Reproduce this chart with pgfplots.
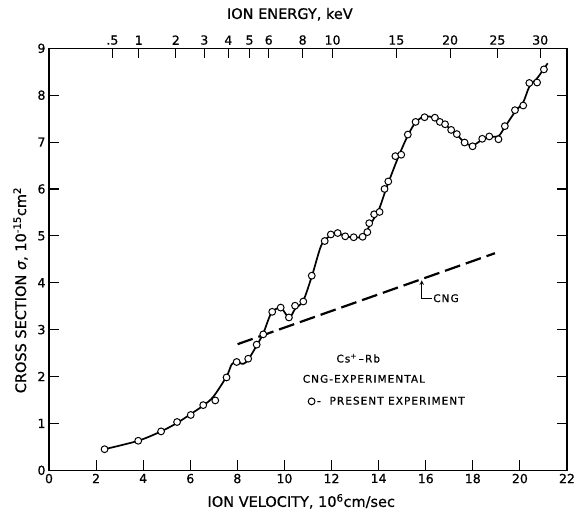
\documentclass[border=0pt]{standalone}
\usepackage{pgfplots}
\pgfplotsset{compat=1.18}
\usepackage{fontspec}
\setmainfont[FakeBold=0.7]{DejaVu Sans}
\newfontfamily\annfont[LetterSpace=10,FakeBold=0.7]{DejaVu Sans}
\begin{document}
\begin{tikzpicture}[x=1pt,y=1pt]
\begin{axis}[
  at={(0,0)}, anchor=south west,
  scale only axis, width=518pt, height=422pt,
  xmin=0, xmax=22, ymin=0, ymax=9,
  xtick={0,2,...,22}, ytick={0,1,...,9},
  xtick pos=bottom, ytick pos=both, tick align=inside,
  major tick length=10pt,
  axis line style={line width=1.3pt},
  every tick/.style={black, line width=1.1pt},
  /pgf/number format/assume math mode=true,
  tick label style={font=\fontsize{12.5}{12.5}\selectfont},
  xlabel={ION VELOCITY, 10\textsuperscript{6}cm/sec},
  xlabel style={at={(axis description cs:0.487,-0.0735)}, anchor=center, font=\fontsize{14.5}{15}\selectfont},
  ylabel={CROSS SECTION \textit{σ}, 10\textsuperscript{-15}cm\textsuperscript{2}},
  ylabel style={at={(axis description cs:-0.055,0.427)}, anchor=center, font=\fontsize{14.5}{15}\selectfont},
  legend style={at={(axis cs:11.0,1.47)}, anchor=west, draw=none, fill=none,
    font=\annfont\fontsize{10.5}{11}\selectfont, inner sep=0pt,
    /tikz/every even column/.append style={column sep=0pt}},
]
% fitted curve
\addplot[black, line width=1.7pt, smooth, tension=0.5, forget plot] coordinates {
(2.36,0.45)(3.79,0.63)(4.76,0.83)(5.44,1.01)(6.02,1.20)(6.55,1.38)(6.98,1.57)
(7.54,2.00)(7.76,2.26)(7.97,2.31)(8.25,2.27)(8.46,2.36)(8.82,2.66)(9.10,2.92)
(9.45,3.36)(9.85,3.46)(10.20,3.25)(10.45,3.44)(10.80,3.62)(11.17,4.15)(11.55,4.78)
(11.85,4.97)(12.25,5.05)(12.60,4.99)(13.00,4.96)(13.35,5.00)(13.62,5.22)(14.00,5.55)
(14.30,5.98)(14.50,6.25)(14.85,6.70)(15.24,7.14)(15.57,7.42)(15.95,7.55)(16.40,7.51)
(16.80,7.38)(17.30,7.17)(17.65,6.99)(18.00,6.93)(18.40,7.05)(18.80,7.11)(19.10,7.13)
(19.36,7.32)(19.80,7.65)(20.14,7.85)(20.40,8.18)(20.73,8.36)(21.00,8.55)(21.18,8.68)
};
% CNG experimental line
\addplot[black, line width=2.2pt, dash pattern=on 16pt off 6pt, forget plot] coordinates {
(8.01,2.69)(18.94,4.63)
};
% present experiment points
\addplot[only marks, mark=*, mark size=3.4pt,
  mark options={fill=white, draw=black, line width=1pt},
  legend image code/.code={\draw[mark repeat=1] plot coordinates {(3.5pt,0pt)};}] coordinates {
(2.36,0.45)(3.79,0.63)(4.76,0.83)(5.44,1.03)(6.02,1.18)(6.55,1.39)(7.06,1.49)
(7.54,1.98)(7.97,2.31)(8.46,2.38)(8.82,2.68)(9.10,2.90)(9.48,3.38)(9.84,3.47)
(10.19,3.26)(10.45,3.51)(10.80,3.60)(11.16,4.15)(11.71,4.89)(11.97,5.03)(12.26,5.06)
(12.58,4.99)(12.94,4.97)(13.32,4.98)(13.52,5.08)(13.60,5.27)(13.81,5.46)(14.04,5.51)
(14.25,6.00)(14.41,6.16)(14.71,6.70)(14.96,6.73)(15.24,7.16)(15.57,7.43)(15.95,7.53)
(16.39,7.52)(16.60,7.43)(16.82,7.38)(17.08,7.26)(17.32,7.17)(17.65,6.99)(17.99,6.91)
(18.40,7.07)(18.70,7.12)(19.09,7.06)(19.36,7.34)(19.79,7.68)(20.14,7.78)(20.40,8.26)
(20.73,8.27)(21.02,8.55)
};
\addlegendentry{- \ PRESENT EXPERIMENT}
% CNG label with arrow
\draw[line width=1pt, -stealth] (axis cs:16.25,3.67) -- (axis cs:15.83,3.67) -- (axis cs:15.83,4.05);
\node[anchor=west, font=\annfont\fontsize{10.5}{11}\selectfont, inner sep=1pt] at (axis cs:16.27,3.67) {CNG};
\node[anchor=west, font=\annfont\fontsize{10.5}{11}\selectfont, inner sep=0pt] at (axis cs:12.2,2.39) {Cs\textsuperscript{+}\,–Rb};
\node[anchor=west, font=\annfont\fontsize{10.5}{11}\selectfont, inner sep=0pt] at (axis cs:10.77,1.95) {CNG-EXPERIMENTAL};
\end{axis}
\begin{axis}[
  at={(0,0)}, anchor=south west,
  scale only axis, width=518pt, height=422pt,
  xmin=0, xmax=22, ymin=0, ymax=9,
  axis x line*=top, hide y axis,
  xtick={2.693,3.809,5.387,6.597,7.618,8.517,9.330,10.773,12.045,14.752,17.034,19.045,20.863},
  xticklabels={.5,1,2,3,4,5,6,8,10,15,20,25,30},
  tick align=inside, major tick length=10pt,
  axis line style={line width=1.3pt},
  every tick/.style={black, line width=1.1pt},
  tick label style={font=\fontsize{12.5}{12.5}\selectfont},
  xlabel={ION ENERGY, keV},
  xlabel style={at={(axis description cs:0.465,1.0806)}, anchor=center, font=\fontsize{14.5}{15}\selectfont},
]
\addplot[draw=none] coordinates {(0,0)};
\end{axis}
\pgfresetboundingbox
\path (-49,-45.6) rectangle (526,470.3);
\end{tikzpicture}
\end{document}
